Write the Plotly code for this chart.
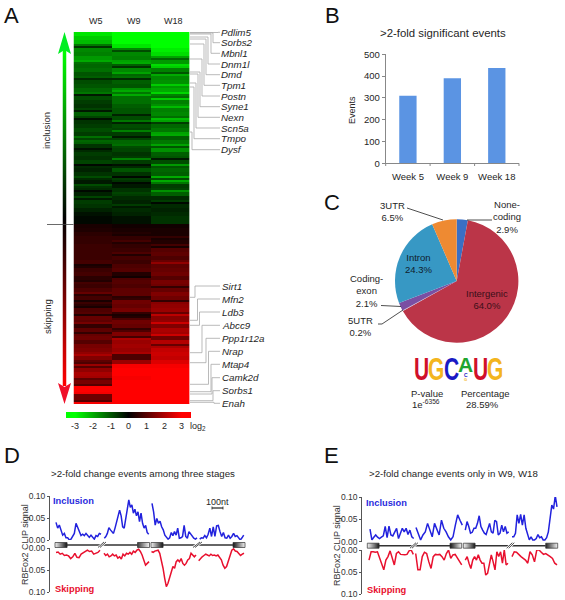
import numpy as np
import plotly.graph_objects as go

# ---------- Panel A data ----------
stages = ["W5", "W9", "W18"]
w5 = [-2.7,-2.4,-2.2,-1.4,-1.6,-1.5,-1.8,-1.3,-1.2,-1.3,
      -1.0,-1.1,-0.9,-1.0,-1.2,-0.8,-0.9,-0.7,-0.6,-0.8,
      -1.1,-0.8,-0.6,-0.7,-0.9,-0.7,-0.8,-1.1,-0.6,-0.5,
      -0.7,-0.6,-0.8,-0.5,-0.4,-0.6,-0.5,-0.3,-0.6,-0.5,
      -0.4,-0.3,-0.7,-0.6,-0.4,-0.2,-0.1,-0.1,
      0.3,0.35,0.5,0.6,0.6,0.7,0.7,0.7,0.7,0.8,
      0.4,0.7,0.8,0.5,0.8,0.7,0.9,0.5,0.8,0.7,
      0.5,0.9,1.0,1.2,1.1,0.6,1.1,1.2,1.3,1.0,
      1.4,1.5,1.7,1.5,1.1,1.8,1.7,2.0,1.9,1.4,
      3.0,3.0,2.9,1.3,2.9]
w9 = [-3,-3,-3,-2.7,-1.6,-1.6,-1.5,-1.9,-1.1,-1.6,
      -1.2,-1.3,-1.1,-1.0,-1.7,-1.4,-1.3,-1.3,-1.1,-1.0,
      -1.0,-0.9,-1.4,-0.9,-0.8,-0.7,-0.8,-1.2,-0.9,-0.8,
      -0.6,-0.7,-0.7,-0.5,-1.0,-0.6,-0.7,-0.6,-0.3,-0.6,
      -0.7,-0.5,-0.4,-0.3,-0.5,-0.4,-0.2,-0.2,
      0.2,0.3,0.4,0.6,0.8,0.6,0.7,0.9,0.8,0.7,
      0.9,1.0,0.4,0.9,1.0,0.9,1.1,1.1,0.6,1.3,
      1.2,1.4,0.6,0.9,1.3,1.2,0.9,1.5,1.6,1.8,
      1.9,1.8,2.0,0.9,1.8,2.9,3.0,3.0,2.9,3.0,
      3.0,3.0,3.0,3.0,3.0]
w18 = [-3,-3,-3,-3,-2.8,-2.6,-1.9,-1.8,-2.4,-1.5,
       -2.0,-1.6,-1.7,-1.8,-2.0,-1.5,-1.3,-1.5,-1.7,-1.5,
       -1.6,-1.3,-1.9,-1.2,-1.4,-1.9,-1.1,-1.4,-1.0,-1.7,
       -1.1,-1.0,-0.9,-1.0,-1.2,-1.1,-0.9,-1.4,-0.7,-0.8,
       -1.1,-0.5,-0.7,-0.5,-0.4,-0.5,-0.6,-0.6,
       0.2,0.3,0.3,0.6,0.4,0.8,1.0,1.1,0.9,1.2,
       1.1,1.2,1.3,1.0,1.4,1.3,1.2,1.5,1.3,1.6,
       1.7,1.8,1.2,1.6,1.7,1.5,2.0,1.9,1.3,2.1,
       2.0,2.3,2.4,2.3,2.6,2.9,3.0,3.0,3.0,3.0,
       3.0,3.0,3.0,3.0,3.0]
# thin individual stripes seen in the heat map: fine row number -> value
w5_stripes = {7:-0.6,14:-2.0,23:-0.5,30:-1.4,31:-0.3,39:-0.3,43:-0.2,52:-1.3,54:-1.2,58:-0.2,66:-0.1,72:-0.9,76:-0.9,79:-0.1,82:-0.8,
              116:0.3,124:0.4,130:1.2,134:0.3,137:0.3,141:0.4,145:1.4,150:0.6,161:2.0,165:0.9,167:1.0,173:1.1,176:1.0,181:1.3,184:1.0}
w9_stripes = {9:-0.9,15:-2.0,17:-0.6,20:-1.9,23:-0.5,29:-2.0,31:-2.0,41:-0.4,45:-0.4,49:-1.5,52:-0.3,56:-1.3,63:-1.5,66:-0.2,72:-0.1,75:-0.1,80:-0.8,86:-0.7,
              101:0.3,105:0.4,111:0.4,122:0.2,132:0.5,141:0.3,142:0.4,148:0.6,152:0.8,153:2.0,161:0.9,163:0.9}
w18_stripes = {13:-1.2,16:-2.6,20:-1.0,26:-2.4,30:-2.5,33:-2.4,37:-2.2,43:-2.2,45:-0.7,51:-2.0,56:-1.9,63:-0.3,66:-1.8,72:-2.0,74:-2.0,79:-1.7,85:-0.1,
               103:0.3,107:0.3,115:1.7,127:0.6,134:0.6,141:2.2,145:2.4,151:2.4,153:1.3,156:1.2}
genes_top = ["Pdlim5","Sorbs2","Mbnl1","Dnm1l","Dmd","Tpm1","Postn","Syne1","Nexn","Scn5a","Tmpo","Dysf"]
genes_bottom = ["Sirt1","Mfn2","Ldb3","Abcc9","Ppp1r12a","Nrap","Mtap4","Camk2d","Sorbs1","Enah"]
scale_ticks = [-3,-2,-1,0,1,2,3]

# ---------- Panel B data ----------
weeks = ["Week 5","Week 9","Week 18"]
events = [310, 390, 437]

# ---------- Panel C data ----------
regions = ["None-coding","Intergenic","5UTR","Coding-exon","Intron","3UTR"]
shares = [2.9, 64.0, 0.2, 2.1, 24.3, 6.5]

# ---------- Panel D data ----------
d_inc_1 = [.040,.027,.034,.023,.011,.015,.005,.005,.000,.002,.008,.015,.038,.027,.019,.010,.013,.010,.015,.011,.006,.011,.005,.002,.010,.008,.015,.013]
d_inc_2 = [.004,.008,.015,.028,.023,.019,.015,.027,.042,.053,.068,.055,.030,.027,.049,.072,.091,.074,.080,.061,.070,.055,.064,.042,.061,.038,.027,.033,.017,.013]
d_inc_3 = [.083,.064,.034,.049,.038,.043,.030,.023,.011,.005,.002,.005,.017,.010,.019,.011,.027,.004,.005,.008,.033,.008,.004,.019,.013,.008,.004,.002,.005]
d_inc_4 = [.002,.005,.004,.010,.005,.013,.027,.008,.030,.008,.032,.033,.019,.008,.017,.005,.004,.011,.004,.008,.015,.008,.010,.004,.000,.005,.011]
d_skip_1 = [.010,.009,.014,.012,.017,.016,.018,.024,.020,.012,.021,.022,.014,.011,.008,.005,.008,.007,.014,.012,.010,.005]
d_skip_2 = [.012,.017,.014,.020,.018,.014,.018,.016,.023,.020,.025,.014,.018,.012,.014,.010,.014,.007,.010,.005,.003,.008,.016,.027,.039,.035,.031]
d_skip_3 = [.008,.010,.007,.006,.005,.012,.027,.046,.069,.088,.080,.065,.050,.042,.046,.031,.027,.031,.024,.035,.039,.035,.027,.024,.012,.016,.020,.016]
d_skip_4 = [.029,.024,.020,.017,.014,.016,.018,.014,.017,.016,.018,.016,.022,.027,.039,.046,.042,.031,.016,.005,.002,.007,.008,.014,.017,.014,.012]

# ---------- Panel E data ----------
e_inc_1 = [.028,.004,.010,.015,.010,.007,.010,.013,.034,.009,.035,.015,.013,.022,.030,.007,.021,.030,.022,.030,.016,.026,.011,.007]
e_inc_2 = [.032,.019,.004,.015,.022,.041,.026,.011,.041,.026,.015,.048,.030,.022,.011,.004,.011,.037,.060,.048,.037]
e_inc_3 = [.026,.045,.034,.019,.021,.030,.030,.041,.058,.034,.026,.019,.016,.030,.041,.022,.019,.048,.045,.015,.019,.037,.022,.034,.019,.022]
e_inc_4 = [.011,.011,.019,.060,.041,.061,.037,.060,.030,.015,.004,.011,.004,.004,.007,.016,.009,.011,.004,.004,.009,.022,.052,.082,.073,.103,.078]
e_skip_1 = [.023,.004,.004,.005,.004,.019,.030,.045,.023,.015,.002,.019,.034,.008,.004,.010,.011,.011,.010,.002,.000,.010]
e_skip_2 = [.008,.045,.045,.015,.005,.008,.027,.042,.015,.010,.011,.010,.015,.023,.008,.000,.019,.011,.010,.019,.027,.034]
e_skip_3 = [.023,.015,.030,.042,.023,.015,.023,.011,.023,.030,.030,.057,.053,.034,.011,.027,.045,.004,.015,.004,.030,.000,.034,.030]
e_skip_4 = [.015,.004,.005,.011,.015,.019,.023,.030,.004,.011,.027,.000,.000,.005,.010,.008,.011,.015,.019,.030,.034]

W, H = 565, 600
FONT = "Liberation Sans"
TXT = "#262626"
BLUE, RED = "#2222DD", "#E8102E"
CS = [[0, "#00FF00"], [0.5, "#000000"], [1, "#FF0000"]]

def px(x): return x / W
def py(y): return 1 - y / H

annotations, shapes = [], []

def T(x, y, s, size=9.5, color=TXT, anchor="center", angle=0, **kw):
    annotations.append(dict(x=px(x), y=py(y), xref="paper", yref="paper", text=s, showarrow=False,
                            xanchor=anchor, yanchor="middle", textangle=angle,
                            font=dict(size=size, color=color, family=kw.pop("family", FONT)), **kw))

def L(pts, color="#999999", width=1):
    d = "M" + " L".join(f"{px(a):.5f},{py(b):.5f}" for a, b in pts)
    shapes.append(dict(type="path", path=d, xref="paper", yref="paper",
                       line=dict(color=color, width=width)))

def POLY(pts, fill):
    d = "M" + " L".join(f"{px(a):.5f},{py(b):.5f}" for a, b in pts) + " Z"
    shapes.append(dict(type="path", path=d, xref="paper", yref="paper", fillcolor=fill,
                       line=dict(width=0)))

def RECT(x0, y0, x1, y1, fill=None, line=None, width=0.6):
    shapes.append(dict(type="rect", xref="paper", yref="paper", x0=px(x0), x1=px(x1), y0=py(y1), y1=py(y0),
                       fillcolor=fill or "rgba(0,0,0,0)",
                       line=dict(color=line or "rgba(0,0,0,0)", width=width if line else 0)))

fig = go.Figure()
layout_axes = {}

def axes(n, l, r, t, b, xkw=None, ykw=None):
    base = dict(visible=False, fixedrange=True, automargin=False)
    xk = dict(base, domain=[px(l), px(r)], anchor=f"y{n}"); xk.update(xkw or {})
    yk = dict(base, domain=[py(b), py(t)], anchor=f"x{n}"); yk.update(ykw or {})
    layout_axes[f"xaxis{n}"] = xk
    layout_axes[f"yaxis{n}"] = yk
    return f"x{n}", f"y{n}"

def fine(col, stripes):
    c = np.repeat(np.array(col, dtype=float), 2)
    for r, v in stripes.items():
        c[r] = v
    return c

# ---------- Panel A ----------
xa, ya = axes(1, 73.5, 189.7, 32, 404, ykw=dict(autorange="reversed"))
z = np.array([fine(w5, w5_stripes), fine(w9, w9_stripes), fine(w18, w18_stripes)]).T
fig.add_trace(go.Heatmap(z=z, x=stages, colorscale=CS, zmin=-3, zmax=3,
                         showscale=False, hoverinfo="skip", xaxis=xa, yaxis=ya))
# arrow shaft
xa, ya = axes(2, 62.5, 66.5, 50, 386, ykw=dict(autorange="reversed"))
fig.add_trace(go.Heatmap(z=np.linspace(-3, 3, 170).reshape(-1, 1), colorscale=CS, zmin=-3, zmax=3,
                         showscale=False, hoverinfo="skip", xaxis=xa, yaxis=ya))
POLY([(64.5, 32), (58, 54), (64.5, 50), (71, 54)], "#00EE22")
POLY([(64.5, 404), (58, 383), (64.5, 387), (71, 383)], "#F0102A")
L([(47, 224.5), (73.5, 224.5)], "#444444", 0.8)
T(47, 131, "inclusion", 9.5, angle=-90)
T(47, 317, "skipping", 9.5, angle=-90)
for name, x in zip(stages, [96, 134, 173]):
    T(x, 20.7, name, 9)
# colour scale
xa, ya = axes(3, 66, 191, 412, 418, xkw=dict(range=[-3.5, 3.5]))
fig.add_trace(go.Heatmap(z=[np.linspace(-3.5, 3.5, 125)], x=np.linspace(-3.5, 3.5, 125), colorscale=CS,
                         zmin=-3, zmax=3, showscale=False, hoverinfo="skip", xaxis=xa, yaxis=ya))
for v in scale_ticks:
    T(128.5 + v * 17.8, 426, f"{v}", 9)
T(198, 426, "log<sub>2</sub>", 9)

top_rows = [32.5, 33, 34, 37, 39, 44, 59, 72, 74, 83, 87, 132]
top_elbow = [218, 213, 211, 208, 206, 204, 202, 200, 198, 196, 194, 192]
top_lab = [32.3, 42.7, 53.3, 64, 74.7, 85.3, 96, 106.7, 117.3, 128, 138.7, 149.7]
for g, r, e, y in zip(genes_top, top_rows, top_elbow, top_lab):
    L([(190, r), (e, r), (e, y), (220, y)], "#A8A8A8", 0.8)
    T(219, y, f"<i>{g}</i>", 9.8, anchor="left")
bot_rows = [297.3, 320.3, 325.3, 352.7, 362.7, 384.3, 391.7, 394, 400.7, 402.3]
bot_elbow = [195, 197.5, 199.5, 202, 206, 208.5, 211, 212, 213, 214]
bot_lab = [286, 299, 312, 325.3, 338.3, 351.3, 364.3, 377.7, 390.7, 403.3]
for g, r, e, y in zip(genes_bottom, bot_rows, bot_elbow, bot_lab):
    L([(190, r), (e, r), (e, y), (220, y)], "#A8A8A8", 0.8)
    T(220, y, f"<i>{g}</i>", 9.8, anchor="left")

# ---------- Panel B ----------
xa, ya = axes(4, 385.7, 519, 54.3, 163.3,
              xkw=dict(visible=True, type="category", showline=True, linecolor="#888888", linewidth=1,
                       tickfont=dict(size=9.5, color=TXT, family=FONT), ticks="outside", ticklen=4,
                       tickcolor="rgba(0,0,0,0)", showgrid=False, zeroline=False),
              ykw=dict(visible=True, range=[0, 500], tickvals=[0, 100, 200, 300, 400, 500], showline=True,
                       linecolor="#888888", linewidth=1, ticks="outside", ticklen=3, tickcolor="#888888",
                       tickfont=dict(size=9.5, color=TXT, family=FONT), showgrid=False, zeroline=False))
fig.add_trace(go.Bar(x=weeks, y=events, marker_color="#5B94E3", marker_line_width=0, width=0.39, xaxis=xa, yaxis=ya, hoverinfo="skip"))
T(443, 33, "&gt;2-fold significant events", 11.4)
T(352, 110, "Events", 9, angle=-90)
for tick_x in (385.7, 430.1, 474.6, 519):
    L([(tick_x, 163.3), (tick_x, 166)], "#888888", 1)

# ---------- Panel C ----------
fig.add_trace(go.Pie(labels=regions, values=shares, sort=False, direction="clockwise", rotation=0,
                     marker=dict(colors=["#3A6FC4", "#BB3548", "#C8C0D8", "#7A4FA3", "#3798C4", "#EE8A32"],
                                 line=dict(width=0)),
                     textinfo="none", hoverinfo="skip", showlegend=False,
                     domain=dict(x=[px(395), px(518.4)], y=[py(342.7), py(219.3)])))
T(418, 264, "Intron<br>24.3%", 9.5, color="#10202C")
T(487, 299, "Intergenic<br>64.0%", 9.5, color="#3A0F18")
T(392, 211, "3UTR<br>6.5%", 9.5)
T(507, 217, "None-<br>coding<br>2.9%", 9.5)
T(366, 291, "Coding-<br>exon<br>2.1%", 9.5)
T(361, 326, "5UTR<br>0.2%", 9.5)
L([(407, 208), (443, 220)], "#222222", 0.8)
L([(492, 220), (467, 220)], "#222222", 0.8)
L([(381, 305.5), (401, 306.5)], "#222222", 0.8)
L([(378, 324), (382, 324), (403, 310)], "#222222", 0.8)
logo = [("U", 421, "#D0102A", 1.45), ("G", 436, "#F3B51E", 1.45), ("C", 451, "#1A1AC4", 1.45),
        ("A", 465.5, "#1FA52E", 0.95), ("U", 480, "#D0102A", 1.45), ("G", 495, "#F3B51E", 1.45)]
for ch, x, col, stretch in logo:
    T(x, 369 if stretch > 1 else 365, f"<b>{ch}</b>", 21, col)
T(465.5, 375, "<b>C</b>", 5, "#1A1AC4")
T(465.5, 379, "<b>G</b>", 4, "#F3B51E")
T(427, 393, "P-value", 9.5)
T(426, 404, "1e<sup>-6356</sup>", 9.5)
T(485, 393, "Percentage", 9.5)
T(482, 404, "28.59%", 9.5)

# ---------- Panels D / E ----------
def clip_panel(prefix_n, axis_x, right, top0, top1, bot0, bot1, track_y, boxes, breaks, segs_inc, segs_skip, extents_i, extents_s):
    common = dict(visible=True, showline=True, linecolor="#555555", linewidth=1, ticks="outside", ticklen=1.5,
                  tickcolor="#555555", tickvals=[0, .05, .1], tickformat=".2f", showgrid=False, zeroline=False,
                  tickfont=dict(size=8.5, color="#333333", family=FONT))
    xk = dict(range=[axis_x, right])
    xa, ya = axes(prefix_n, axis_x, right, top1, top0, xkw=xk, ykw=dict(common, range=[0, .1]))
    xb, yb = axes(prefix_n + 1, axis_x, right, bot0, bot1, xkw=xk, ykw=dict(common, range=[.1, 0]))
    for vals, (s, e) in zip(segs_inc, extents_i):
        fig.add_trace(go.Scatter(x=np.linspace(s, e, len(vals)), y=vals, mode="lines", xaxis=xa, yaxis=ya,
                                 line=dict(color=BLUE, width=1.5), hoverinfo="skip", showlegend=False))
    for vals, (s, e) in zip(segs_skip, extents_s):
        fig.add_trace(go.Scatter(x=np.linspace(s, e, len(vals)), y=vals, mode="lines", xaxis=xb, yaxis=yb,
                                 line=dict(color=RED, width=1.5), hoverinfo="skip", showlegend=False))
    # gene track
    for (a, b) in ((boxes[0][1], boxes[1][0]), (boxes[2][1], boxes[3][0])):
        L([(a, track_y), (b, track_y)], "#333333", 1.5)
    for (a, b, rev) in boxes:
        n = 12
        for i in range(n):
            f = i / (n - 1)
            f = 1 - f if rev else f
            g = int(235 - f * 205)
            RECT(a + (b - a) * i / n, track_y - 2.5, a + (b - a) * (i + 1) / n + 0.2, track_y + 2.5, fill=f"rgb({g},{g},{g})")
        RECT(a, track_y - 2.5, b, track_y + 2.5, line="#333333", width=0.7)
    for (a, b) in breaks:
        L([(a + 1, track_y + 2.5), (b - 1, track_y - 3)], "white", 3.5)
        L([(a, track_y + 2.5), (b - 2, track_y - 3)], "#222222", 0.8)
        L([(a + 2, track_y + 2.5), (b, track_y - 3)], "#222222", 0.8)

clip_panel(5, 49.5, 250, 540, 496, 548, 592, 545,
           [(55, 67, False), (137.5, 149.5, True), (151, 163, False), (233, 245, True)],
           [(98, 106), (193, 202)],
           [d_inc_1, d_inc_2, d_inc_3, d_inc_4], [d_skip_1, d_skip_2, d_skip_3, d_skip_4],
           [(56, 101), (104.3, 148.7), (152, 197), (199.7, 243.7)],
           [(56, 100), (104, 149), (151.5, 196), (198.7, 244)])
clip_panel(7, 361.7, 562, 541.7, 497, 550, 594, 545.7,
           [(367.3, 379, False), (450, 461.7, True), (463.3, 475, False), (545.7, 557.7, True)],
           [(410, 418), (506.7, 514.3)],
           [e_inc_1, e_inc_2, e_inc_3, e_inc_4], [e_skip_1, e_skip_2, e_skip_3, e_skip_4],
           [(370, 413.7), (416, 462.3), (465.3, 508.7), (512, 557)],
           [(369, 413.3), (415.7, 461.7), (465.3, 508), (512, 557)])

T(143, 473, "&gt;2-fold change events among three stages", 9.7)
T(453, 473, "&gt;2-fold change events only in W9, W18", 9.7)
T(25, 545, "RBFox2 CLIP signal", 9, color="#333333", angle=-90)
T(337, 546, "RBFox2 CLIP signal", 9, color="#333333", angle=-90)
T(73.5, 501, "<b>Inclusion</b>", 9.3, "#2A2ADD")
T(74.5, 589, "<b>Skipping</b>", 9.3, "#E8102E")
T(386, 502.7, "<b>Inclusion</b>", 9.3, "#2A2ADD")
T(386.5, 590, "<b>Skipping</b>", 9.3, "#E8102E")
T(217.5, 502, "100nt", 9)
L([(212, 508), (223, 508)], "#222222", 1.2)
L([(212, 506.5), (212, 509.5)], "#222222", 0.8)
L([(223, 506.5), (223, 509.5)], "#222222", 0.8)

# ---------- Panel letters ----------
T(11, 15, "A", 22, "#111111")
T(332, 15, "B", 22, "#111111")
T(332, 202, "C", 22, "#111111")
T(12, 455, "D", 22, "#111111")
T(331, 455, "E", 22, "#111111")

fig.update_layout(template="none", width=W, height=H, margin=dict(l=0, r=0, t=0, b=0), paper_bgcolor="white", plot_bgcolor="rgba(0,0,0,0)",
                  showlegend=False, annotations=annotations, shapes=shapes, font=dict(family=FONT), **layout_axes)

# page margin off; the sequence-logo letters are taller than they are wide, so stretch those text elements
POST = """
document.documentElement.style.overflow='hidden';
document.body.style.margin='0';
var stretch={U:1.45,G:1.45,C:1.45,A:0.95};
document.querySelectorAll('.annotation-text').forEach(function(t){
  var s=t.textContent, r=t.getBoundingClientRect();
  if(stretch[s] && r.top>345 && r.top<385 && r.left>405 && parseFloat(t.style.fontSize)>15){
    t.style.transformBox='fill-box';t.style.transformOrigin='center';
    t.style.transform='scaleY('+stretch[s]+')';
  }
});
"""
fig.write_html("out.html", config=dict(displayModeBar=False), default_width=f"{W}px", default_height=f"{H}px", post_script=POST)
